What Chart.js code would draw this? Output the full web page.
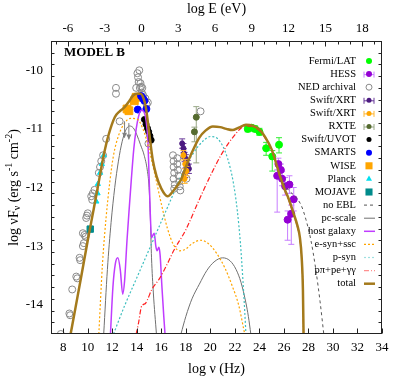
<!DOCTYPE html>
<html><head><meta charset="utf-8">
<script src="https://cdn.jsdelivr.net/npm/chart.js@4/dist/chart.umd.min.js"></script>
<style>html,body{margin:0;padding:0;background:#fff;}#c{display:block;}</style>
</head><body>
<canvas id="c" width="407" height="379"></canvas>
<script>
// ---------- data (log nu [Hz], log nuFnu [erg s^-1 cm^-2]) ----------
const xTicks = [8,10,12,14,16,18,20,22,24,26,28,30,32,34];
const yTicks = [-14,-13,-12,-11,-10];
const eTicks = [-6,-3,0,3,6,9,12,15,18];

const fermiNu   = [23.05,23.35,23.65,24.0,24.55,25.05,25.6];
const fermiLogF = [-11.0,-10.98,-11.0,-11.05,-11.33,-11.47,-11.27];
const fermiErrLo= [0.05,0.05,0.05,0.06,0.12,0.25,0.14];
const fermiErrHi= [0.05,0.05,0.05,0.06,0.1,0.1,0.12];
const fermiNuErr= [0.12,0.12,0.12,0.12,0.12,0.12,0.12];

const hessNu    = [25.45,25.55,25.75,25.85,26.1,26.45,26.8,26.6,26.3];
const hessLogF  = [-11.8,-11.6,-11.7,-11.85,-11.98,-11.95,-12.2,-12.45,-12.55];
const hessErrLo = [0.62,0.1,0.1,0.12,0.15,0.15,0.2,0.52,0.35];
const hessErrHi = [0.1,0.1,0.1,0.12,0.15,0.15,0.2,0.15,0.15];
const hessNuErr = [0.12,0.12,0.12,0.12,0.12,0.12,0.12,0.12,0.12];

const nedNu   = [7.8,8.5,8.56,8.73,9.06,9.14,9.33,9.38,9.6,9.68,9.6,9.73,9.82,9.87,9.93,10.0,10.28,10.36,10.41,10.55,10.9,11.0,11.1,11.25,11.5,12.3,12.3,12.6,
                 13.85,13.95,14.05,14.1,14.15,14.2,14.25,14.3,14.35,14.4,14.45,14.5,14.55,14.7,14.8,14.9,14.95,
                 16.95,17.0,17.0,17.05,17.0,17.1,17.05,17.3,17.3,17.35,17.4,17.45,17.5,17.55,18.05,19.2];
const nedLogF = [-14.5,-14.15,-14.18,-13.74,-13.52,-13.55,-13.2,-13.24,-13.0,-12.95,-12.78,-12.81,-12.84,-12.52,-12.48,-12.44,-12.15,-12.21,-12.1,-12.04,-11.75,-11.65,-11.55,-11.45,-11.17,-10.3,-10.4,-10.87,
                 -10.45,-10.3,-10.05,-10.12,-10.2,-10.0,-10.3,-10.22,-10.28,-10.38,-10.3,-10.42,-10.5,-10.48,-10.58,-10.55,-11.25,
                 -11.45,-11.55,-11.65,-11.75,-11.85,-11.95,-12.02,-11.5,-11.6,-11.7,-11.8,-11.9,-11.98,-12.05,-11.85,-10.7];
const nedUlNu   = [13.0,13.35];
const nedUlLogF = [-10.87,-10.9];

const xrt1Nu   = [17.7,17.8,17.85,17.9,18.0,18.05,18.15,18.25,17.95];
const xrt1LogF = [-11.25,-11.33,-11.42,-11.48,-11.52,-11.58,-11.62,-11.68,-11.75];
const xrt1Err  = [0.08,0.08,0.08,0.08,0.08,0.08,0.08,0.08,0.08];
const xrt2Nu   = [17.8,17.95,18.05,17.9];
const xrt2LogF = [-11.45,-11.6,-11.72,-11.85];
const xrt2Err  = [0.08,0.08,0.08,0.08];
const rxteNu    = [18.85,18.7];
const rxteLogF  = [-10.8,-11.05];
const rxteErrLo = [0.78,0.17];
const rxteErrHi = [0.18,0.08];
const uvotNu   = [14.62,14.75,14.87,14.97,15.07,15.17];
const uvotLogF = [-10.84,-10.92,-10.99,-11.05,-11.12,-11.19];
const smartsNu   = [14.08,14.35,14.5,14.62,14.78];
const smartsLogF = [-10.67,-10.44,-10.48,-10.52,-10.66];
const wiseNu   = [13.2,13.35,13.8,13.95];
const wiseLogF = [-10.66,-10.69,-10.52,-10.46];
const planckNu   = [10.7,10.8,10.82,11.0,11.15,11.3];
const planckLogF = [-12.24,-12.1,-11.94,-11.75,-11.6,-11.45];
const mojaveNu   = [10.2];
const mojaveLogF = [-12.71];

// model curves
const totalNu   = [8.6,9.0,9.5,10.0,10.5,10.9,11.3,11.7,12.2,12.6,13.0,13.4,13.7,14.0,14.3,14.55,14.75,15.0,15.3,15.6,16.0,16.5,17.0,17.6,18.0,18.5,19.1,19.6,20.2,20.8,21.3,21.8,22.3,22.9,23.5,24.0,24.5,25.0,25.6,26.0,26.4,26.8,27.1,27.3,27.45,27.55,27.6];
const totalLogF = [-14.5,-14.05,-13.48,-12.9,-12.35,-11.9,-11.45,-11.1,-10.8,-10.7,-10.63,-10.52,-10.43,-10.4,-10.4,-10.48,-10.65,-11.05,-11.53,-11.8,-12.02,-12.15,-12.05,-11.87,-11.65,-11.4,-11.15,-11.03,-10.96,-10.97,-11.0,-11.02,-10.98,-10.93,-10.95,-11.01,-11.15,-11.35,-11.75,-12.0,-12.2,-12.45,-12.65,-12.85,-13.2,-13.75,-14.5];
const noEblNu   = [23.5,24.0,24.5,25.0,25.6,26.0,26.4,26.9,27.4,27.8,28.2,28.6,28.95,29.25];
const noEblLogF = [-10.95,-11.01,-11.15,-11.35,-11.72,-11.93,-12.05,-12.15,-12.3,-12.55,-12.9,-13.4,-13.95,-14.5];
const pcNu1   = [11.3,11.6,11.9,12.2,12.5,12.8,13.1,13.4,13.7,14.0,14.3,14.6,14.85,15.0,15.1,15.2,15.35,15.6];
const pcLogF1 = [-14.5,-13.4,-12.6,-12.0,-11.55,-11.22,-11.02,-10.95,-10.98,-11.1,-11.27,-11.45,-11.7,-12.0,-12.5,-13.2,-13.8,-14.5];
const pcNu2   = [17.6,18.0,18.5,19.1,19.7,20.3,21.0,21.6,22.1,22.5,22.9,23.1,23.3];
const pcLogF2 = [-14.5,-14.2,-13.9,-13.65,-13.42,-13.27,-13.2,-13.25,-13.4,-13.62,-13.97,-14.2,-14.5];
const hostNu   = [11.85,12.05,12.25,12.45,12.65,12.85,13.0,13.2,13.4,13.55,13.75,13.95,14.15,14.35,14.55,14.75,14.9,15.0,15.1,15.2,15.3,15.42,15.55,15.65,15.8,15.9,16.05,16.2,16.3];
const hostLogF = [-14.5,-13.7,-13.3,-13.2,-13.4,-13.82,-13.6,-12.9,-12.3,-11.87,-11.35,-11.0,-10.78,-10.68,-10.7,-10.85,-11.2,-11.8,-12.45,-12.86,-12.82,-12.78,-13.0,-13.08,-13.02,-13.15,-13.7,-14.2,-14.5];
const esynNu   = [10.9,11.2,11.5,11.8,12.1,12.5,13.0,13.5,14.0,14.5,15.0,15.5,16.0,16.5,17.0,17.5,18.0,18.5,19.2,19.8,20.5,21.2,21.8,22.3,22.8];
const esynLogF = [-14.5,-13.3,-12.5,-11.9,-11.45,-11.12,-10.9,-10.82,-10.83,-11.0,-11.35,-11.8,-12.28,-12.7,-12.98,-13.08,-13.05,-12.96,-12.9,-12.95,-13.12,-13.38,-13.69,-14.0,-14.5];
const psynNu   = [12.1,13.0,14.0,15.0,16.0,17.0,17.5,18.0,18.5,19.0,19.5,20.0,20.4,20.8,21.2,21.6,21.9,22.2,22.45,22.66,22.8,22.9];
const psynLogF = [-14.5,-14.02,-13.54,-13.06,-12.58,-12.1,-11.86,-11.64,-11.45,-11.3,-11.19,-11.13,-11.14,-11.22,-11.38,-11.65,-11.95,-12.4,-12.95,-13.6,-14.1,-14.5];
const ppiNu   = [13.95,14.15,14.35,14.5,14.7,14.9,15.2,15.86,16.5,17.0,18.0,19.0,20.0,21.0,22.0,22.6,22.9,23.5,24.0,24.5,25.0,25.6,26.0,26.4,26.8,27.1,27.3,27.45,27.55,27.6];
const ppiLogF = [-14.5,-14.3,-14.05,-14.0,-13.98,-13.9,-13.75,-13.55,-13.3,-13.08,-12.72,-12.25,-11.8,-11.4,-11.1,-10.97,-10.95,-10.97,-11.03,-11.17,-11.37,-11.77,-12.02,-12.22,-12.47,-12.67,-12.87,-13.22,-13.77,-14.5];

// ---------- helpers ----------
const pts = (xs, ys) => xs.map((v, i) => ({x: v, y: ys[i]}));
const FONT = "'Liberation Serif','Times New Roman',serif";
Chart.defaults.font.family = FONT;
Chart.defaults.color = '#000';

function lineDS(label, xs, ys, color, width, dash, order, leg) {
  return {label, data: pts(xs, ys), showLine: true, pointRadius: 0, borderColor: color,
    backgroundColor: color, borderWidth: width, borderDash: dash, fill: false,
    cubicInterpolationMode: 'monotone', order, clip: 0, leg};
}
function ptDS(label, xs, ys, o, order) {
  return Object.assign({label, data: pts(xs, ys), showLine: false, pointStyle: 'circle',
    pointRadius: 3, pointBorderWidth: 1, order, clip: 0, leg: {kind: 'pt'}}, o);
}

const datasets = [
  ptDS('Fermi/LAT', fermiNu, fermiLogF, {backgroundColor:'#00ff00', borderColor:'#00ff00', pointRadius:3.5,
      errLo: fermiErrLo, errHi: fermiErrHi, errX: fermiNuErr, errColor:'#33ee33'}, 20),
  ptDS('HESS', hessNu, hessLogF, {backgroundColor:'#9400d3', borderColor:'#9400d3', pointRadius:3.5,
      errLo: hessErrLo, errHi: hessErrHi, errX: hessNuErr, errColor:'#c77dff', legErr:true}, 20),
  ptDS('NED archival', nedNu, nedLogF, {backgroundColor:'rgba(0,0,0,0)', borderColor:'#8a8a8a', pointRadius:3.5}, 22),
  ptDS('Swift/XRT', xrt1Nu, xrt1LogF, {backgroundColor:'#4b1a80', borderColor:'#4b1a80', pointRadius:2.5,
      errLo: xrt1Err, errHi: xrt1Err, errX: xrt1Err, errColor:'#6a3a9a', legErr:true}, 19),
  ptDS('Swift/XRT', xrt2Nu, xrt2LogF, {backgroundColor:'#ffa500', borderColor:'#ffa500', pointRadius:2.5,
      errLo: xrt2Err, errHi: xrt2Err, errX: xrt2Err, errColor:'#ffb733', legErr:true}, 18),
  ptDS('RXTE', rxteNu, rxteLogF, {backgroundColor:'#556b2f', borderColor:'#556b2f', pointRadius:3,
      errLo: rxteErrLo, errHi: rxteErrHi, errX: [0.1,0.1], errColor:'#9aa888', legErr:true}, 18),
  ptDS('Swift/UVOT', uvotNu, uvotLogF, {backgroundColor:'#000', borderColor:'#000', pointRadius:3}, 17),
  ptDS('SMARTS', smartsNu, smartsLogF, {backgroundColor:'#0000ff', borderColor:'#0000ff', pointRadius:3.5}, 17),
  ptDS('WISE', wiseNu, wiseLogF, {backgroundColor:'#ffa500', borderColor:'#ffa500', pointStyle:'rect', pointRadius:5.5}, 17),
  ptDS('Planck', planckNu, planckLogF, {backgroundColor:'#00e0f0', borderColor:'#00e0f0', pointStyle:'triangle', pointRadius:3}, 16),
  ptDS('MOJAVE', mojaveNu, mojaveLogF, {backgroundColor:'#008b8b', borderColor:'#008b8b', pointStyle:'rect', pointRadius:4.5}, 16),
  lineDS('no EBL', noEblNu, noEblLogF, '#555555', 1, [3,3], 2, {kind:'line'}),
  lineDS('pc-scale', pcNu1, pcLogF1, '#707070', 1, [], 7, {kind:'line'}),
  lineDS('pc-scale2', pcNu2, pcLogF2, '#707070', 1, [], 7, null),
  lineDS('host galaxy', hostNu, hostLogF, '#c03cff', 1.5, [], 6, {kind:'line'}),
  lineDS('e-syn+ssc', esynNu, esynLogF, '#ffa500', 1.2, [2,2], 5, {kind:'line'}),
  lineDS('p-syn', psynNu, psynLogF, '#3fbfbf', 1.2, [2,2], 4, {kind:'line', color:'#9ee0e0'}),
  lineDS('pπ+pe+γγ', ppiNu, ppiLogF, '#ff2020', 1.2, [5,2,1,2], 3, {kind:'line', color:'#ff9090'}),
  lineDS('total', totalNu, totalLogF, '#a47a1c', 2.5, [], 0, {kind:'line'})
];

// ---------- plugins ----------
function marker(ctx, style, x, y, r, fill, stroke) {
  ctx.beginPath();
  if (style === 'rect') { const s = r * Math.SQRT1_2; ctx.rect(x - s, y - s, 2 * s, 2 * s); }
  else if (style === 'triangle') { ctx.moveTo(x, y - r * 1.15); ctx.lineTo(x + r, y + r * 0.58); ctx.lineTo(x - r, y + r * 0.58); ctx.closePath(); }
  else ctx.arc(x, y, r, 0, Math.PI * 2);
  if (fill) { ctx.fillStyle = fill; ctx.fill(); }
  if (stroke) { ctx.strokeStyle = stroke; ctx.lineWidth = 1; ctx.stroke(); }
}

const errorBars = {
  id: 'errorBars',
  beforeDatasetDraw(chart, args) {
    const ds = chart.data.datasets[args.index];
    if (!ds.errLo) return;
    const {ctx, chartArea: a, scales: {x, y}} = chart;
    ctx.save();
    ctx.beginPath(); ctx.rect(a.left, a.top, a.right - a.left, a.bottom - a.top); ctx.clip();
    ctx.strokeStyle = ds.errColor; ctx.lineWidth = 1;
    ds.data.forEach((p, i) => {
      const px = x.getPixelForValue(p.x), py = y.getPixelForValue(p.y);
      const yl = y.getPixelForValue(p.y - ds.errLo[i]), yh = y.getPixelForValue(p.y + ds.errHi[i]);
      const xl = x.getPixelForValue(p.x - ds.errX[i]), xh = x.getPixelForValue(p.x + ds.errX[i]);
      ctx.beginPath();
      ctx.moveTo(px, yl); ctx.lineTo(px, yh);
      ctx.moveTo(xl, py); ctx.lineTo(xh, py);
      ctx.moveTo(px - 3, yl); ctx.lineTo(px + 3, yl);
      ctx.moveTo(px - 3, yh); ctx.lineTo(px + 3, yh);
      ctx.moveTo(xl, py - 3); ctx.lineTo(xl, py + 3);
      ctx.moveTo(xh, py - 3); ctx.lineTo(xh, py + 3);
      ctx.stroke();
    });
    ctx.restore();
  }
};

const decor = {
  id: 'decor',
  afterDatasetsDraw(chart) {
    const {ctx, chartArea: a, scales: {x, y}} = chart;
    // NED upper limits (arrows)
    ctx.save();
    ctx.strokeStyle = '#808080'; ctx.fillStyle = '#808080'; ctx.lineWidth = 1;
    nedUlNu.forEach((nu, i) => {
      const px = x.getPixelForValue(nu), y0 = y.getPixelForValue(nedUlLogF[i]), y1 = y.getPixelForValue(nedUlLogF[i] - 0.28);
      ctx.beginPath(); ctx.moveTo(px, y0); ctx.lineTo(px, y1); ctx.stroke();
      ctx.beginPath(); ctx.moveTo(px - 2.5, y1 - 5); ctx.lineTo(px, y1); ctx.lineTo(px + 2.5, y1 - 5); ctx.closePath(); ctx.fill();
    });
    // frame
    ctx.strokeStyle = '#222'; ctx.lineWidth = 1;
    ctx.strokeRect(a.left + 0.5, a.top + 0.5, a.right - a.left - 1, a.bottom - a.top - 1);
    ctx.beginPath();
    const L = a.left + 0.5, R = a.right - 0.5, T = a.top + 0.5, B = a.bottom - 0.5;
    xTicks.forEach(v => { const px = Math.round(x.getPixelForValue(v)) + 0.5; ctx.moveTo(px, B); ctx.lineTo(px, B - 5); });
    for (let e = -7; e <= 19; e++) {
      const px = Math.round(x.getPixelForValue(e + 14.383)) + 0.5;
      if (px < L || px > R) continue;
      const len = (e % 3 === 0) ? 5 : 3;
      ctx.moveTo(px, T); ctx.lineTo(px, T + len);
    }
    for (let k = -145; k <= -95; k += 2) {
      const v = k / 10, py = Math.round(y.getPixelForValue(v)) + 0.5;
      if (py < T || py > B) continue;
      const len = (k % 10 === 0) ? 5 : 3;
      ctx.moveTo(L, py); ctx.lineTo(L + len, py);
      ctx.moveTo(R, py); ctx.lineTo(R - len, py);
    }
    ctx.stroke();
    ctx.restore();
  },
  afterDraw(chart) {
    const {ctx, chartArea: a} = chart;
    ctx.save();
    ctx.fillStyle = '#000';
    // titles
    ctx.font = '14px ' + FONT; ctx.textAlign = 'center'; ctx.textBaseline = 'middle';
    const cx = (a.left + a.right) / 2;
    ctx.fillText('log E (eV)', cx, 9);
    ctx.fillText('log ν (Hz)', cx, 369);
    ctx.font = 'bold 13px ' + FONT; ctx.textAlign = 'left';
    ctx.fillText('MODEL B', 64, 53);
    // y title
    const parts = [['log νF', 14, 0], ['ν', 10, 3], [' (erg s', 14, 0], ['-1', 10, -5], [' cm', 14, 0], ['-2', 10, -5], [')', 14, 0]];
    let W = 0;
    parts.forEach(p => { ctx.font = p[1] + 'px ' + FONT; W += ctx.measureText(p[0]).width; });
    ctx.translate(14, (a.top + a.bottom) / 2);
    ctx.rotate(-Math.PI / 2);
    let xx = -W / 2;
    parts.forEach(p => { ctx.font = p[1] + 'px ' + FONT; ctx.fillText(p[0], xx, p[2]); xx += ctx.measureText(p[0]).width; });
    ctx.setTransform(1, 0, 0, 1, 0, 0);
    // legend
    let row = 0;
    chart.data.datasets.forEach(ds => {
      if (!ds.leg) return;
      const ly = 61 + row * 13.1; row++;
      ctx.font = '10.5px ' + FONT; ctx.textAlign = 'right'; ctx.textBaseline = 'middle'; ctx.fillStyle = '#000';
      ctx.fillText(ds.label, 356, ly);
      const mx = 369;
      if (ds.leg.kind === 'pt') {
        if (ds.legErr) {
          ctx.strokeStyle = ds.errColor; ctx.lineWidth = 1; ctx.beginPath();
          ctx.moveTo(mx - 5, ly + 0.5); ctx.lineTo(mx + 5, ly + 0.5);
          ctx.moveTo(mx - 5, ly - 2.5); ctx.lineTo(mx - 5, ly + 3.5);
          ctx.moveTo(mx + 5, ly - 2.5); ctx.lineTo(mx + 5, ly + 3.5);
          ctx.stroke();
        }
        const transparent = ds.backgroundColor === 'rgba(0,0,0,0)';
        const r = ds.pointStyle === 'rect' ? 5 : ds.pointStyle === 'triangle' ? 3 : (ds.pointRadius > 3 ? 3 : 2.5);
        marker(ctx, ds.pointStyle, mx, ly, r, transparent ? null : ds.backgroundColor, transparent ? ds.borderColor : null);
      } else {
        ctx.strokeStyle = ds.leg.color || ds.borderColor;
        ctx.lineWidth = ds.borderWidth; ctx.setLineDash(ds.borderDash || []);
        ctx.beginPath(); ctx.moveTo(364, ly); ctx.lineTo(375, ly); ctx.stroke();
        ctx.setLineDash([]);
      }
    });
    ctx.restore();
  }
};

new Chart(document.getElementById('c'), {
  type: 'scatter',
  data: {datasets},
  options: {
    responsive: false, animation: false, devicePixelRatio: 1,
    layout: {padding: {left: 0, right: 25, top: 0, bottom: 0}},
    plugins: {legend: {display: false}, tooltip: {enabled: false}},
    scales: {
      x: {type: 'linear', position: 'bottom', min: 7, max: 34,
        grid: {display: false, drawTicks: false}, border: {display: false},
        afterBuildTicks: s => { s.ticks = xTicks.map(v => ({value: v})); },
        afterFit: s => { s.height = 45; },
        ticks: {font: {size: 13}, padding: 6, maxRotation: 0, autoSkip: false, color: '#000'}},
      x2: {type: 'linear', position: 'top', min: 7 - 14.383, max: 34 - 14.383,
        grid: {display: false, drawTicks: false}, border: {display: false},
        afterBuildTicks: s => { s.ticks = eTicks.map(v => ({value: v})); },
        afterFit: s => { s.height = 41; },
        ticks: {font: {size: 13}, padding: 5, maxRotation: 0, autoSkip: false, color: '#000'}},
      y: {type: 'linear', position: 'left', min: -14.5, max: -9.5,
        grid: {display: false, drawTicks: false}, border: {display: false},
        afterBuildTicks: s => { s.ticks = yTicks.map(v => ({value: v})); },
        afterFit: s => { s.width = 51; },
        ticks: {font: {size: 13}, padding: 8, autoSkip: false, color: '#000'}}
    }
  },
  plugins: [errorBars, decor]
});
</script>
</body></html>
